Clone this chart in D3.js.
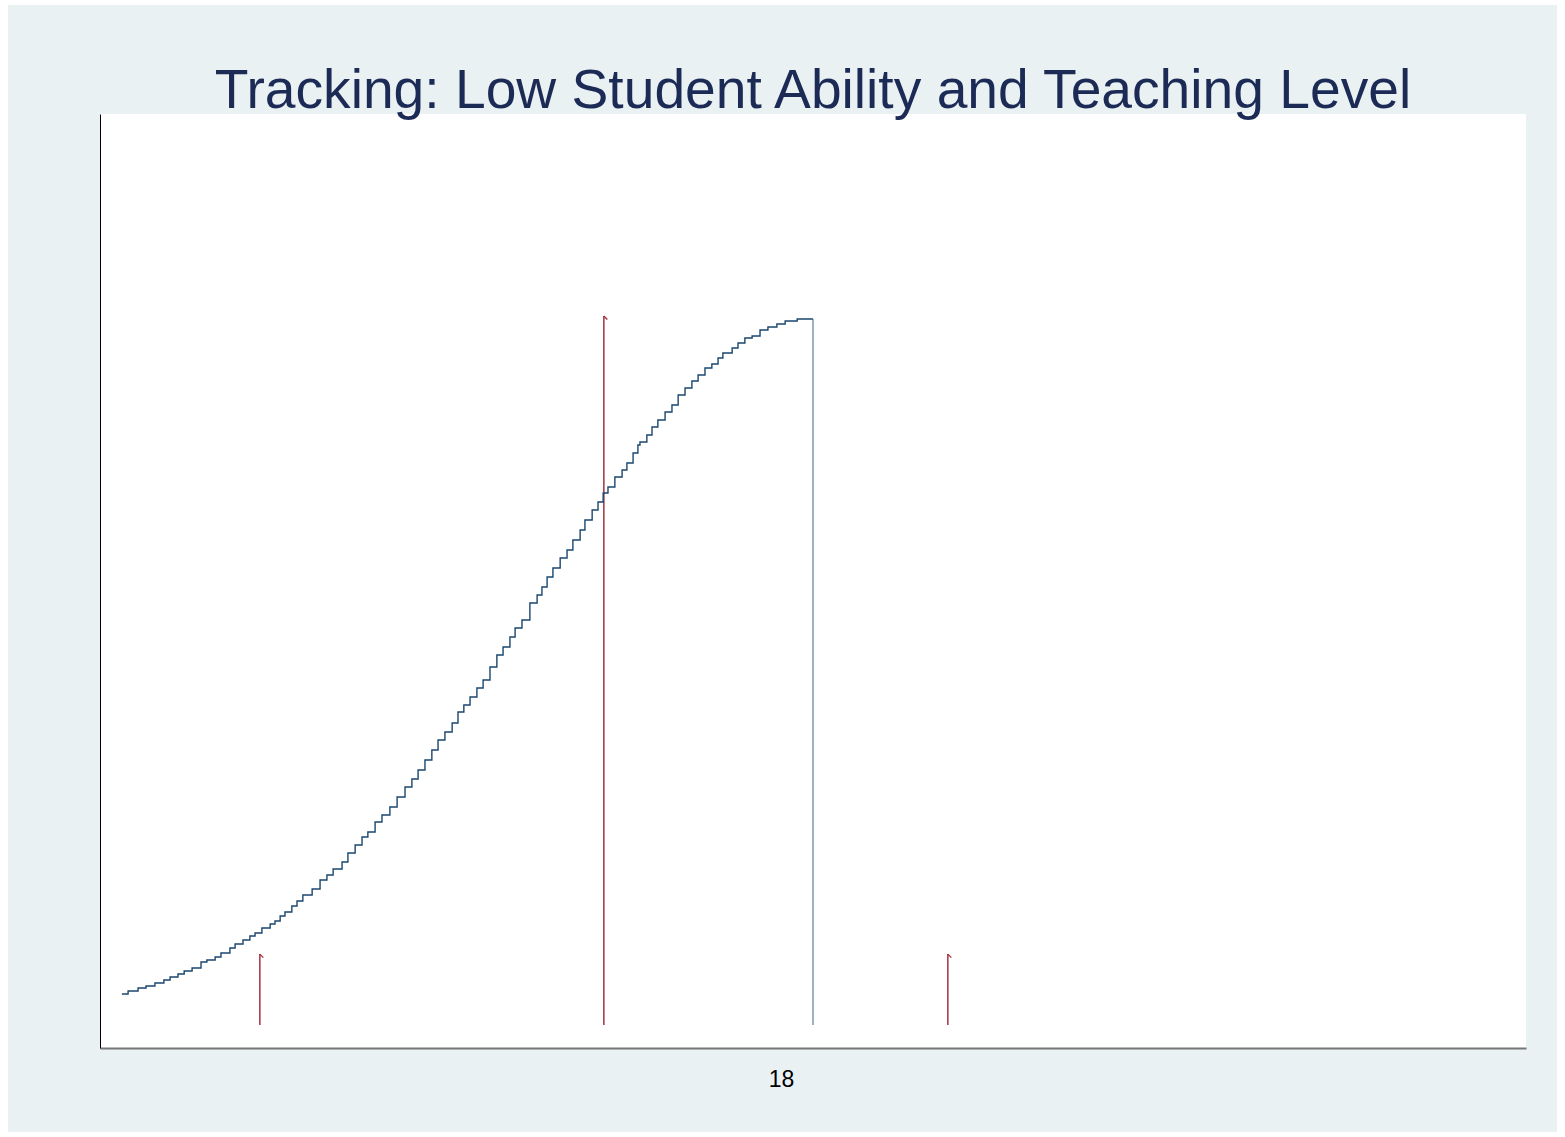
<!DOCTYPE html>
<html>
<head>
<meta charset="utf-8">
<script src="https://cdn.jsdelivr.net/npm/d3@7"></script>
<style>
  html, body { margin: 0; padding: 0; background: #ffffff; }
  svg { display: block; }
</style>
</head>
<body>
<div id="chart"></div>
<script>
// ---------------- DATA ----------------
const titleText = "Tracking: Low Student Ability and Teaching Level";
const xTickValues = [18];
const xTickLabels = ["18"];

// step curve (x value, cumulative height)
const curveX = [
  16.084,16.102,16.131,16.154,16.180,16.206,16.224,16.247,16.265,16.288,
  16.314,16.331,16.355,16.372,16.398,16.413,16.436,16.456,16.471,16.491,
  16.515,16.529,16.544,16.558,16.578,16.593,16.610,16.637,16.660,16.680,
  16.698,16.724,16.741,16.762,16.782,16.799,16.820,16.840,16.863,16.884,
  16.907,16.927,16.945,16.965,16.985,17.003,17.023,17.044,17.061,17.078,
  17.096,17.116,17.134,17.154,17.174,17.192,17.212,17.227,17.247,17.270,
  17.291,17.305,17.320,17.337,17.358,17.378,17.395,17.416,17.430,17.451,
  17.468,17.483,17.497,17.517,17.538,17.552,17.570,17.584,17.590,17.610,
  17.625,17.642,17.663,17.683,17.701,17.721,17.741,17.759,17.779,17.799,
  17.817,17.831,17.858,17.875,17.895,17.916,17.939,17.962,17.988,18.012,
  18.047,18.093,18.093
];
const curveY = [
  0.0437,0.0480,0.0522,0.0550,0.0592,0.0635,0.0677,0.0719,0.0762,0.0804,
  0.0889,0.0917,0.0959,0.1016,0.1086,0.1142,0.1199,0.1255,0.1298,0.1368,
  0.1425,0.1467,0.1537,0.1594,0.1678,0.1749,0.1834,0.1918,0.2045,0.2116,
  0.2200,0.2299,0.2426,0.2539,0.2652,0.2722,0.2863,0.2962,0.3075,0.3216,
  0.3357,0.3470,0.3597,0.3738,0.3879,0.4020,0.4133,0.4260,0.4415,0.4513,
  0.4626,0.4753,0.4866,0.5049,0.5219,0.5331,0.5472,0.5599,0.5712,0.5952,
  0.6065,0.6178,0.6319,0.6446,0.6587,0.6700,0.6841,0.6982,0.7123,0.7264,
  0.7377,0.7504,0.7588,0.7729,0.7828,0.7927,0.8068,0.8181,0.8223,0.8322,
  0.8434,0.8533,0.8646,0.8745,0.8886,0.8984,0.9083,0.9168,0.9267,0.9323,
  0.9408,0.9478,0.9549,0.9619,0.9690,0.9718,0.9803,0.9845,0.9887,0.9929,
  0.9958,0.9958,0.0
];

// red spikes (arrows)
const arrowX = [16.485, 17.485, 18.485];
const arrowY = [0.10, 1.00, 0.10];

// ---------------- LAYOUT ----------------
const W = 1565, H = 1137;
const plot = { left: 100, right: 1526, top: 114, bottom: 1048 };

const svg = d3.select("#chart").append("svg")
  .attr("width", W).attr("height", H)
  .style("font-family", "'Liberation Sans', Arial, Helvetica, sans-serif");

svg.append("rect").attr("x", 0).attr("y", 0).attr("width", W).attr("height", H).attr("fill", "#ffffff");
svg.append("rect").attr("x", 8).attr("y", 5).attr("width", W - 16).attr("height", H - 10).attr("fill", "#eaf1f3");
svg.append("rect").attr("x", plot.left).attr("y", plot.top)
  .attr("width", plot.right - plot.left).attr("height", plot.bottom - plot.top).attr("fill", "#ffffff");

const x = d3.scaleLinear().domain([16.0203, 20.1657]).range([plot.left, plot.right]);
const y = d3.scaleLinear().domain([-0.0324, 1.2849]).range([plot.bottom, plot.top]);

// title
svg.append("text")
  .attr("x", 813).attr("y", 108)
  .attr("text-anchor", "middle")
  .attr("font-size", 55.2)
  .attr("fill", "#1c2b55")
  .text(titleText);

// red arrows
const arrows = svg.append("g");
arrowX.forEach((v, i) => {
  const px = x(v), py0 = y(0), py1 = y(arrowY[i]);
  arrows.append("line")
    .attr("x1", px).attr("x2", px).attr("y1", py0).attr("y2", py1)
    .attr("stroke", "#a4323d").attr("stroke-width", 1.5);
  arrows.append("line")
    .attr("x1", px).attr("x2", px + 3.5).attr("y1", py1).attr("y2", py1 + 3.5)
    .attr("stroke", "#a4323d").attr("stroke-width", 1.3);
});

// step curve
const pts = curveX.map((v, i) => [v, curveY[i]]);
const n = pts.length;
const line = d3.line().x(d => x(d[0])).y(d => y(d[1])).curve(d3.curveStepAfter);
svg.append("path").datum(pts.slice(0, n - 1))
  .attr("d", line)
  .attr("fill", "none")
  .attr("stroke", "#1a476f")
  .attr("stroke-width", 1.4);
// vertical drop at the end
svg.append("path").datum(pts.slice(n - 2))
  .attr("d", line)
  .attr("fill", "none")
  .attr("stroke", "#4f7094")
  .attr("stroke-width", 1.1);

// axes
const xAxis = d3.axisBottom(x).tickValues(xTickValues)
  .tickFormat((d, i) => xTickLabels[i]).tickSizeInner(0).tickSizeOuter(0).tickPadding(23);
const gx = svg.append("g").attr("transform", `translate(0,${plot.bottom})`).call(xAxis);
gx.select(".domain").attr("stroke", "#777777").attr("stroke-width", 2);
gx.selectAll("text").attr("font-size", 23).attr("fill", "#000000")
  .attr("font-family", "'Liberation Sans', Arial, Helvetica, sans-serif");

const yAxis = d3.axisLeft(y).tickValues([]).tickSizeOuter(0);
const gy = svg.append("g").attr("transform", `translate(${plot.left},0)`).call(yAxis);
gy.select(".domain").attr("stroke", "#000000").attr("stroke-width", 1);
</script>
</body>
</html>
